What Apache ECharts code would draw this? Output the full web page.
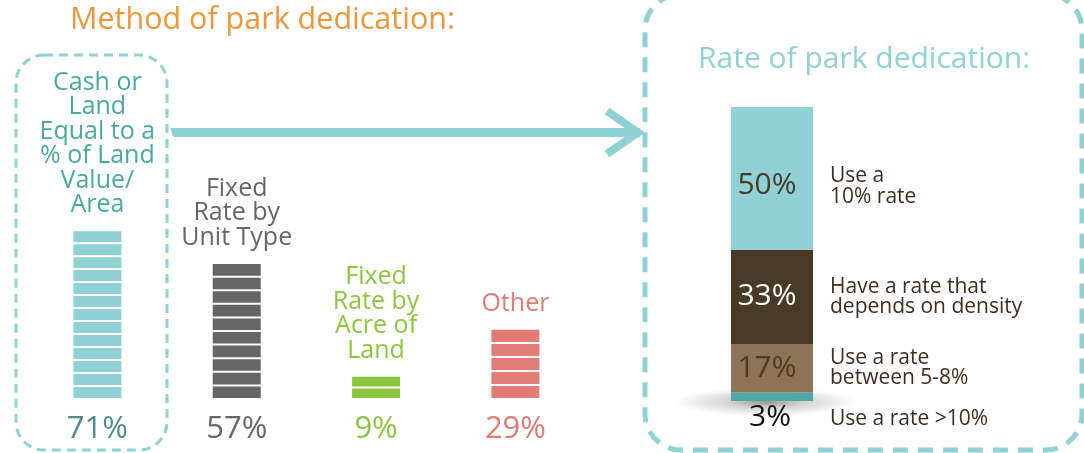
<!DOCTYPE html>
<html>
<head>
<meta charset="utf-8">
<script src="https://cdn.jsdelivr.net/npm/echarts/dist/echarts.min.js"></script>
<style>html,body{margin:0;padding:0;background:#fff}#c{width:1084px;height:453px}</style>
</head>
<body>
<div id="c"></div>
<script>
// ---- data ----
const methodTitle = 'Method of park dedication:';
const methodCategories = ['Cash or\nLand\nEqual to a\n% of Land\nValue/\nArea', 'Fixed\nRate by\nUnit Type', 'Fixed\nRate by\nAcre of\nLand', 'Other'];
const methodValues = [71, 57, 9, 29];
const methodStripes = [13, 10, 2, 5];          // number of stripes drawn in each icon bar
const methodColors = ['#8FD1D5', '#666666', '#8CC63F', '#E07B76'];
const methodLabelColors = ['#4AA8A2', '#666666', '#8CC63F', '#E07B76'];
const methodPctColors = ['#4F8C8A', '#666666', '#8CC63F', '#E07B76'];

const rateTitle = 'Rate of park dedication:';
const rateLabels = ['Use a\n10% rate', 'Have a rate that\ndepends on density', 'Use a rate\nbetween 5-8%', 'Use a rate >10%'];
const rateValues = [50, 33, 17, 3];
const rateColors = ['#8FD1D5', '#483A26', '#8F7358', '#4FA8A6'];
const ratePctColors = ['#4A3A28', '#FFFFFF', '#4A3A28', '#111111'];

const FONT = '"Open Sans", "Noto Sans", sans-serif';
const chart = echarts.init(document.getElementById('c'), null, {renderer: 'canvas'});

const rich = {};
methodPctColors.forEach((c, i) => { rich['c' + i] = {color: c, fontSize: 31, fontFamily: FONT}; });

const STRIPE_W = 48, STRIPE_GAP = 2, LABEL_GAP = 14;
const series = [{
  type: 'custom',
  xAxisIndex: 0, yAxisIndex: 0,
  encode: {x: 0, y: 1},
  data: methodValues.map((v, i) => [i, v]),
  renderItem: (params, api) => {
    const i = params.dataIndex;
    const n = methodStripes[i];
    const base = api.coord([api.value(0), 0]);
    const top = api.coord([api.value(0), api.value(1)]);
    const len = base[1] - top[1];
    const h = (len - STRIPE_GAP * (n - 1)) / n;
    const children = [];
    for (let k = 0; k < n; k++) {
      children.push({
        type: 'rect',
        shape: {x: base[0] - STRIPE_W / 2, y: base[1] - (k + 1) * h - k * STRIPE_GAP, width: STRIPE_W, height: h},
        style: {fill: methodColors[i]}
      });
    }
    children.push({
      type: 'text', x: base[0], y: top[1] - LABEL_GAP,
      style: {text: methodCategories[i], align: 'center', verticalAlign: 'bottom',
              fill: methodLabelColors[i], font: '25px ' + FONT, lineHeight: 24.5}
    });
    return {type: 'group', children: children};
  }
}];

const rateTotal = rateValues.reduce((a, b) => a + b, 0);
const pctOffsets = [[-5, 7], [-5, 0], [-5, 0], [-2, 1]];
const textOffsets = [[0, 8], [0, 0], [0, 0], [0, 22]];
for (let i = rateValues.length - 1; i >= 0; i--) {
  const last = i === rateValues.length - 1;
  series.push({
    type: 'bar', xAxisIndex: 1, yAxisIndex: 1, stack: 'rate', barWidth: 82, barGap: '-100%',
    data: [rateValues[i]],
    itemStyle: {color: rateColors[i]},
    label: {
      show: true, position: last ? 'bottom' : 'inside', distance: 0,
      offset: pctOffsets[i],
      formatter: p => p.value + '%', color: ratePctColors[i],
      fontFamily: FONT, fontSize: 30
    }
  });
  series.push({
    type: 'bar', xAxisIndex: 1, yAxisIndex: 1, stack: 'rateText', barWidth: 82, barGap: '-100%',
    data: [rateValues[i]],
    itemStyle: {color: 'rgba(0,0,0,0)'},
    silent: true,
    label: {
      show: true, position: 'right', distance: 17,
      formatter: () => rateLabels[i], color: '#3F2E1F',
      fontFamily: FONT, fontSize: 21, lineHeight: 20.5,
      offset: textOffsets[i]
    }
  });
}

const deco = [
  {type: 'rect', z: -1, silent: true, shape: {x: 16, y: 55, width: 151, height: 395, r: 28},
   style: {fill: 'none', stroke: '#8FD1D5', lineWidth: 3, lineDash: [9, 6]}},
  {type: 'rect', z: -1, silent: true, shape: {x: 645, y: -6, width: 437, height: 456, r: 36},
   style: {fill: 'none', stroke: '#8FD1D5', lineWidth: 5, lineDash: [15, 10]}},
  {type: 'polygon', z: -1, silent: true, shape: {points: [[170.5, 128], [640, 128], [640, 137], [173, 137]]},
   style: {fill: '#8FD1D5'}},
  {type: 'polyline', z: -1, silent: true, shape: {points: [[607, 111], [638, 132.5], [607, 154]]},
   style: {stroke: '#8FD1D5', lineWidth: 8, lineJoin: 'miter', fill: 'none'}}
];

chart.setOption({
  backgroundColor: '#fff',
  animation: false,
  title: [
    {text: methodTitle, left: 70, top: 5, padding: 0,
     textStyle: {color: '#F0963A', fontFamily: FONT, fontSize: 30.5, fontWeight: 'normal'}},
    {text: rateTitle, left: 698, top: 44, padding: 0,
     textStyle: {color: '#8FD1D5', fontFamily: FONT, fontSize: 30, fontWeight: 'normal'}}
  ],
  grid: [
    {left: 27.7, width: 557.4, top: 163, bottom: 55, outerBoundsMode: 'none', containLabel: false},
    {left: 700, width: 144, top: 107, bottom: 52, outerBoundsMode: 'none', containLabel: false}
  ],
  xAxis: [
    {type: 'category', gridIndex: 0, data: methodCategories,
     axisLine: {show: false}, axisTick: {show: false}, splitLine: {show: false},
     axisLabel: {margin: 16, formatter: (v, idx) => '{c' + idx + '|' + methodValues[idx] + '%}', rich: rich}},
    {type: 'category', gridIndex: 1, data: ['rate'], show: false}
  ],
  yAxis: [
    {type: 'value', gridIndex: 0, min: 0, max: 100, show: false},
    {type: 'value', gridIndex: 1, min: 0, max: rateTotal, show: false}
  ],
  graphic: deco,
  series: series
});

// soft shadow under the stacked bar, anchored to its base via the axes
const base = chart.convertToPixel({xAxisIndex: 1, yAxisIndex: 1}, ['rate', 0]);
deco.push({type: 'circle', z: 1, silent: true,
  x: base[0] - 6, y: base[1] + 1, scaleX: 6.5, scaleY: 1,
  shape: {cx: 0, cy: 0, r: 14},
  style: {fill: new echarts.graphic.RadialGradient(0.5, 0.5, 0.5, [
    {offset: 0, color: 'rgba(0,0,0,0.4)'},
    {offset: 0.4, color: 'rgba(0,0,0,0.18)'},
    {offset: 1, color: 'rgba(0,0,0,0)'}
  ])}});
chart.setOption({graphic: deco});
</script>
</body>
</html>
